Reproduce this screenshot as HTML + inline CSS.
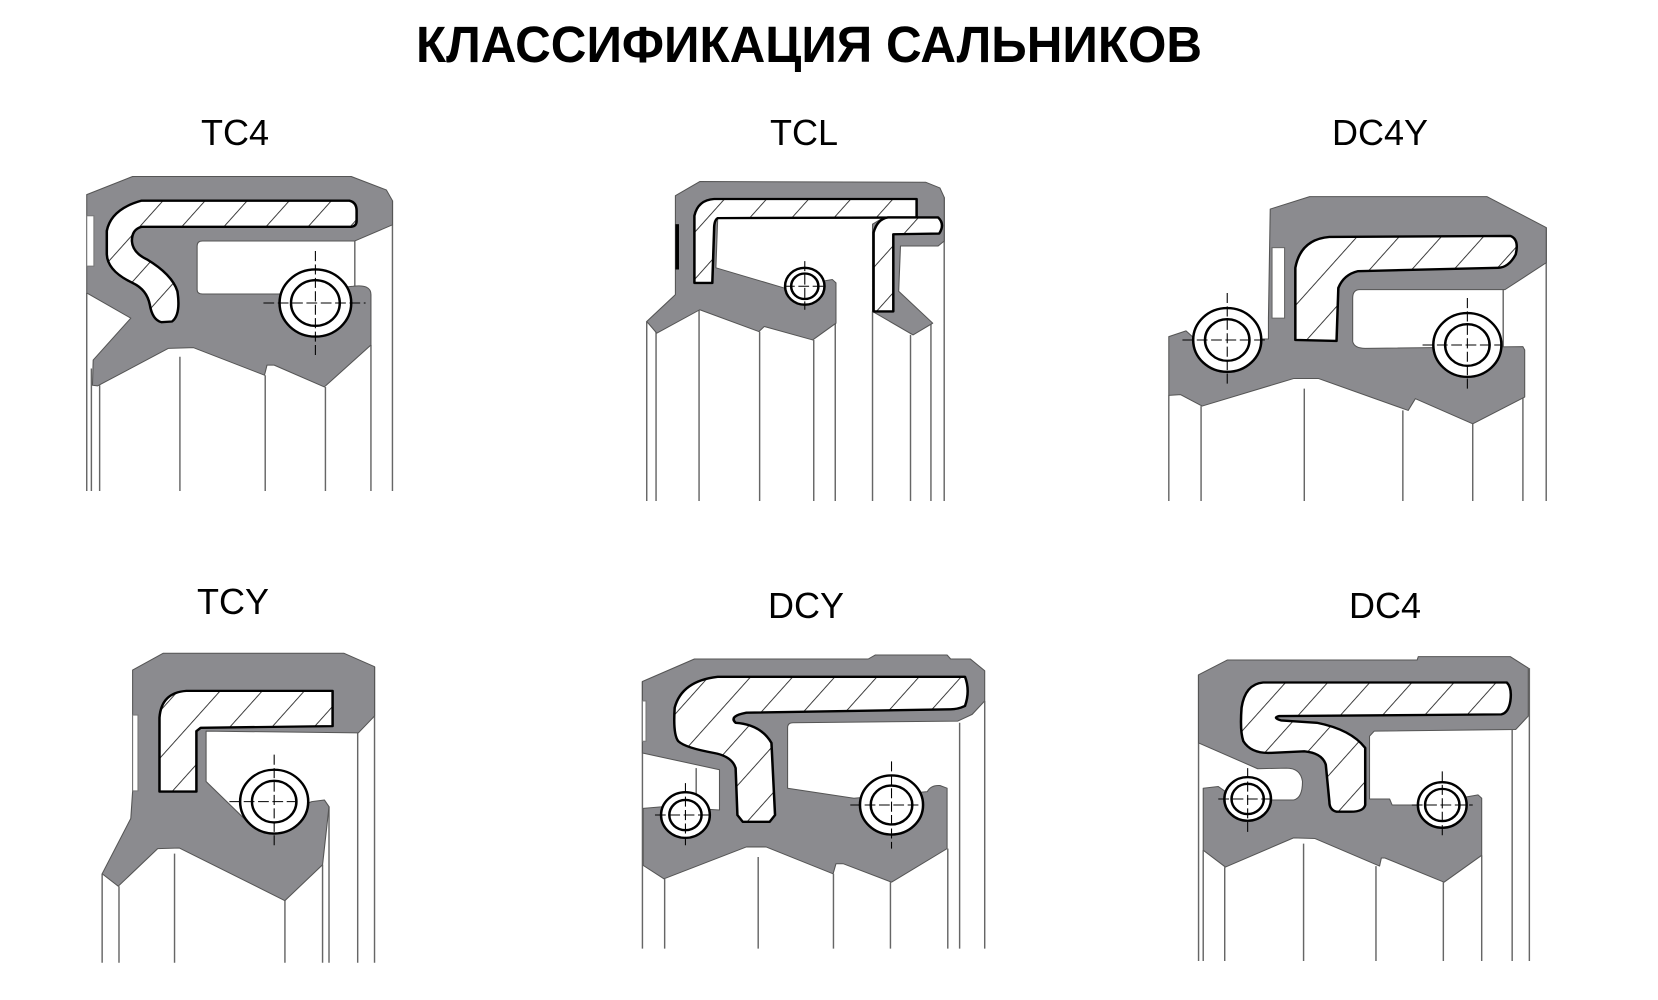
<!DOCTYPE html>
<html><head><meta charset="utf-8"><style>
html,body{margin:0;padding:0;background:#fff;}
svg{display:block;}
.body{fill:#8b8b8f;stroke:#555;stroke-width:3;stroke-linejoin:round;}
.ins{fill:url(#h);stroke:#000;stroke-width:7;stroke-linejoin:round;}
.cav{fill:#fff;stroke:#000;stroke-width:6;}
.vl{stroke:#666;stroke-width:4;fill:none;}
.sp{fill:#fff;stroke:#000;stroke-width:7;}
.cr{stroke:#000;stroke-width:3;stroke-dasharray:30 10;fill:none;}
.lbl{font-family:"Liberation Sans",sans-serif;font-size:36px;fill:#000;text-anchor:middle;}
</style></head><body>
<svg width="1658" height="1000" viewBox="0 0 1658 1000" xmlns="http://www.w3.org/2000/svg">
<defs>
<pattern id="h" patternUnits="userSpaceOnUse" width="90" height="90" patternTransform="rotate(40)">
<rect width="90" height="90" fill="#fff"/><line x1="0" y1="0" x2="0" y2="90" stroke="#222" stroke-width="5"/>
</pattern>
</defs>
<text x="809" y="62" font-family="Liberation Sans, sans-serif" font-weight="bold" font-size="51" text-anchor="middle" textLength="786" lengthAdjust="spacingAndGlyphs">КЛАССИФИКАЦИЯ САЛЬНИКОВ</text>
<text class="lbl" x="235" y="145">TC4</text>
<text class="lbl" x="804" y="145">TCL</text>
<text class="lbl" x="1380" y="145">DC4Y</text>
<text class="lbl" x="233" y="614">TCY</text>
<text class="lbl" x="806" y="618">DCY</text>
<text class="lbl" x="1385" y="618">DC4</text>

<!-- TC4 -->
<g transform="translate(0,100) scale(0.3584,0.3356)">
<path class="vl" d="M242,575V1165M255,800V1165M278,850V1165M502,765V1165M740,820V1165M908,855V1165M1035,730V1165M1095,300V1165M990,420V560"/>
<path class="body" d="M242,282L370,228L980,228L1078,268L1095,300L1095,372L990,420L565,420Q550,420 550,435L550,565Q550,578 565,578L780,578L985,555Q1035,548 1035,580L1035,730L905,855L765,790L745,790L738,820L540,738L470,740L272,852L258,850L260,775L365,650L242,575Z"/>
<rect x="242" y="345" width="20" height="150" fill="#fff" stroke="#777" stroke-width="3"/>
<path class="ins" d="M395,300L975,300Q995,305 995,330L995,360Q995,378 975,378L395,378Q368,385 368,420Q370,455 410,475Q480,520 495,570Q505,640 480,660L450,662Q425,655 418,610Q410,565 370,545Q300,510 298,460L298,390Q310,325 395,300Z"/>
<circle class="sp" cx="880" cy="605" r="100"/><circle class="sp" cx="880" cy="605" r="68"/>
<path class="cr" d="M880,450V760M735,605H1020"/>
</g>

<!-- TCL -->
<g transform="translate(560,100) scale(0.3584,0.3356)">
<path class="vl" d="M242,660V1195M268,690V1195M388,625V1195M557,690V1195M708,715V1195M768,545V1195M872,630V1195M978,700V1195M1035,665V1195M1072,290V1195"/>
<path class="body" d="M322,285L390,243L1020,245L1060,262L1072,290L1072,420L1055,435L950,435L945,570L1040,665L985,700L872,630L872,370L900,352L440,352L435,500L625,560L760,535L770,545L770,665L705,715L570,675L555,690L390,625L270,695L242,660L322,580Z"/>
<rect x="322" y="370" width="10" height="135" fill="#000"/>
<path class="ins" d="M375,345Q385,298 430,295L995,295L995,350L440,352Q430,358 430,385L425,545L375,545Z"/>
<path class="ins" d="M875,395Q885,355 915,350L1055,350Q1075,370 1058,398L930,400L930,630L875,630Z"/>
<circle class="sp" cx="683" cy="555" r="55"/><circle class="sp" cx="683" cy="555" r="38"/>
<path class="cr" d="M683,480V625M625,555H745"/>
</g>

<!-- DC4Y -->
<g transform="translate(1100,100) scale(0.3584,0.3356)">
<path class="vl" d="M192,880V1195M282,912V1195M570,860V1195M845,925V1195M1040,965V1195M1180,745V1195M1245,380V1195M1125,565V735"/>
<path class="body" d="M475,325L585,288L1080,288L1245,380L1245,485L1130,565L725,565Q705,565 705,590L705,720Q710,740 740,740L1180,735L1185,745L1185,885L1040,965L880,890L860,925L610,830L540,830L285,912L225,878L192,880L192,705L240,688L265,712L470,712L470,650Z"/>
<rect x="480" y="440" width="35" height="210" fill="#fff" stroke="#666" stroke-width="3"/>
<path class="ins" d="M545,715L545,500Q560,415 640,408L1145,405Q1170,415 1160,460Q1140,500 1110,500L720,510Q680,520 665,560L660,718Z"/>
<circle class="sp" cx="355" cy="715" r="95"/><circle class="sp" cx="355" cy="715" r="62"/>
<path class="cr" d="M355,575V850M230,715H470"/>
<circle class="sp" cx="1025" cy="730" r="95"/><circle class="sp" cx="1025" cy="730" r="62"/>
<path class="cr" d="M1025,590V870M900,730H1120"/>
</g>

<!-- TCY -->
<g transform="translate(0,560) scale(0.3584,0.3356)">
<path class="vl" d="M285,935V1200M332,972V1200M487,875V1200M795,1015V1200M900,908V1200M918,735V1200M998,515V1200M1045,318V1200"/>
<path class="body" d="M370,328L455,278L960,278L1045,318L1045,465L1000,515L575,510L575,660L700,790L870,720L905,715L918,735L900,908L795,1015L500,858L440,860L330,972L285,935L365,770L370,690Z"/>
<rect x="370" y="462" width="15" height="226" fill="#fff" stroke="#777" stroke-width="3"/>
<path class="ins" d="M445,690L445,470Q450,395 520,390L928,390L928,495L560,500L548,510L548,690Z"/>
<circle class="sp" cx="765" cy="720" r="95"/><circle class="sp" cx="765" cy="720" r="62"/>
<path class="cr" d="M765,580V850M640,720H830"/>
</g>

<!-- DCY -->
<g transform="translate(560,560) scale(0.3584,0.3356)">
<path class="vl" d="M230,362V1158M292,950V1158M553,885V1158M763,935V1158M922,960V1158M1082,860V1158M1115,485V1158M1185,420V1158M380,620V720"/>
<path class="body" d="M230,362L375,295L860,295L880,283L1080,283L1090,295L1145,295L1185,330L1185,420L1150,460L1110,480L650,485Q635,485 635,500L635,680L820,710L1025,690Q1035,670 1060,672L1080,680L1080,860L925,960L790,905L770,905L762,935L575,855L520,855L290,950L232,910L232,740L290,735L445,745L445,625L230,575Z"/>
<rect x="230" y="420" width="10" height="120" fill="#fff" stroke="#777" stroke-width="3"/>
<path class="ins" d="M320,440Q340,360 440,348L1130,348Q1145,390 1130,435Q1110,445 1090,445L520,455Q470,465 490,485Q560,490 590,545L600,760L585,780L510,780L495,760L490,620Q480,585 430,575Q350,560 330,540Q315,520 320,440Z"/>
<circle class="sp" cx="350" cy="760" r="68"/><circle class="sp" cx="350" cy="760" r="45"/>
<path class="cr" d="M350,665V850M265,760H420"/>
<circle class="sp" cx="925" cy="730" r="88"/><circle class="sp" cx="925" cy="730" r="58"/>
<path class="cr" d="M925,600V860M810,730H1015"/>
</g>

<!-- DC4 -->
<g transform="translate(1100,560) scale(0.3584,0.3356)">
<path class="vl" d="M275,342V1195M288,865V1195M348,915V1195M568,845V1195M770,912V1195M958,960V1195M1065,880V1195M1150,505V1195M1198,322V1195"/>
<path class="body" d="M275,342L355,298L885,298L888,288L1145,288L1195,322L1195,465L1160,505L765,510L752,525L752,712L808,712L815,730L895,730L1055,700L1065,710L1065,880L960,960L795,888L785,888L780,912L600,830L540,828L350,915L288,865L288,680L330,675L350,690L480,715L540,715Q565,710 565,660Q560,620 520,620L440,622L275,545Z"/>
<path class="ins" d="M395,440Q405,370 455,365L1135,365Q1150,380 1145,420Q1140,455 1120,460L500,465Q480,470 505,478L605,485Q700,505 740,560L740,730Q735,750 700,750L660,750Q640,745 640,720L630,610Q620,575 570,570L470,575Q420,575 400,540Q390,510 395,440Z"/>
<circle class="sp" cx="412" cy="712" r="65"/><circle class="sp" cx="412" cy="712" r="45"/>
<path class="cr" d="M412,620V810M330,712H480"/>
<circle class="sp" cx="955" cy="730" r="68"/><circle class="sp" cx="955" cy="730" r="48"/>
<path class="cr" d="M955,630V830M870,730H1040"/>
</g>
</svg>
</body></html>
